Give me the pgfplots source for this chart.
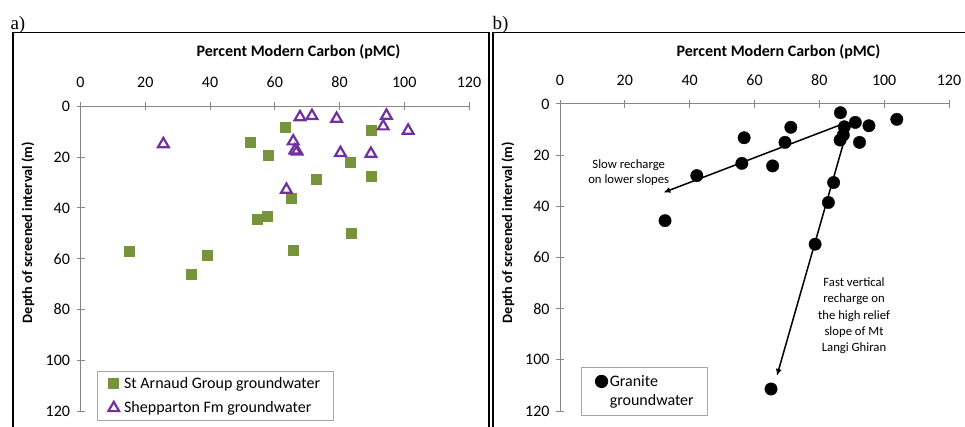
\documentclass[border=0pt]{standalone}
\usepackage{fontspec}
\setmainfont{Carlito}
\newfontfamily\panelfont{Liberation Serif}
\usepackage{pgfplots}
\pgfplotsset{compat=1.18}
\usetikzlibrary{arrows.meta}

\definecolor{axgray}{HTML}{868686}
\definecolor{sagreen}{HTML}{77933C}
\definecolor{shpurple}{HTML}{7030A0}

\pgfplotsset{
  depthax/.style={
    scale only axis,
    y dir=reverse,
    xmin=0, xmax=120, ymin=0, ymax=120,
    xtick={0,20,...,120}, ytick={0,20,...,120},
    axis x line=top, axis y line=left,
    axis line style={-, axgray, line width=1pt},
    tick style={axgray, line width=1pt},
    tick align=center,
    major tick length=8pt,
    /pgf/number format/assume math mode=true,
    tick label style={font=\fontsize{16}{19}\selectfont},
    yticklabel style={xshift=-3pt},
    xticklabel style={yshift=11pt},
    clip=false,
    legend cell align=left,
    legend style={draw=gray!70, line width=0.8pt,
      font=\fontsize{16}{19}\selectfont, anchor=south west,
      inner xsep=11pt, inner ysep=4pt, column sep=3pt},
  }
}

\begin{document}
\begin{tikzpicture}
\useasboundingbox (0,0) rectangle (965pt,427pt);

% panel frames
\draw[line width=1.2pt] (13pt,-5pt) -- (13pt,394.3pt) -- (489pt,394.3pt) -- (489pt,-5pt);
\draw[line width=1.2pt] (493pt,-5pt) -- (493pt,394.3pt) -- (975pt,394.3pt);
\node[anchor=base west, font=\panelfont\fontsize{19}{22}\selectfont] at (7pt,397.5pt) {a)};
\node[anchor=base west, font=\panelfont\fontsize{19}{22}\selectfont] at (489pt,397.5pt) {b)};

% ---- a) ----
\begin{axis}[depthax,
  at={(80.5pt,16pt)}, anchor=south west,
  width=388.5pt, height=304.5pt,
  legend style={at={(axis description cs:0.0425,-0.032)}, row sep=8pt},
]
\addplot[only marks, mark=square*, mark size=5pt, color=sagreen] table {
x y
63.1 8.2
52.3 14.1
58.1 19.1
89.9 9.5
83.2 22.0
72.9 28.6
89.9 27.5
65.2 36.0
57.8 43.1
54.7 44.5
83.5 50.0
65.8 56.5
15.1 57.0
39.0 58.6
34.1 66.1
};
\addlegendentry{St Arnaud Group groundwater}
\addplot[only marks, mark=triangle, mark size=6.2pt, color=shpurple,
  mark options={line width=2.2pt}] table {
x y
67.8 4.2
71.5 3.7
79.1 4.8
94.5 3.6
93.5 7.8
101.2 9.5
25.6 14.8
65.7 13.7
66.2 17.3
66.9 17.7
80.3 18.3
89.7 18.6
63.6 32.8
};
\addlegendentry{Shepparton Fm groundwater}
\end{axis}

% ---- b) ----
\begin{axis}[depthax,
  at={(560pt,16pt)}, anchor=south west,
  width=389pt, height=307pt,
  legend style={at={(axis description cs:0.053,-0.0153)}, row sep=3pt,
    inner xsep=12pt, inner ysep=6pt, column sep=0pt},
]
\addplot[only marks, mark=*, mark size=6.2pt, color=black] table {
x y
86.5 3.4
91.1 7.2
95.3 8.5
103.9 6.0
87.7 8.9
87.4 12.1
86.4 14.1
92.4 15.0
71.2 9.1
56.8 13.2
69.4 15.0
56.1 23.2
65.6 24.2
42.2 28.0
84.4 30.7
82.8 38.5
32.4 45.6
78.7 54.8
65.1 111.4
};
\addlegendentry{Granite}
\addlegendimage{empty legend}
\addlegendentry{groundwater}
\addplot[black, line width=1.5pt, -{Latex[length=7pt,width=6pt]}, forget plot]
  coordinates {(86.2,8.3) (31.9,34.6)};
\addplot[black, line width=1.5pt, -{Latex[length=7pt,width=6pt]}, forget plot]
  coordinates {(88,12.8) (66.9,106.3)};
\node[align=center, font=\fontsize{12.7}{15}\selectfont] at (axis cs:21.2,26.8)
  {Slow recharge\\on lower slopes};
\node[align=center, font=\fontsize{12.7}{16.4}\selectfont] at (axis cs:90.7,82.8)
  {Fast vertical\\recharge on\\the high relief\\slope of Mt\\Langi Ghiran};
\end{axis}

% axis titles
\node[anchor=base, font=\bfseries\fontsize{16}{19}\selectfont] at (298.5pt,370.7pt)
  {Percent Modern Carbon (pMC)};
\node[anchor=base, font=\bfseries\fontsize{16}{19}\selectfont] at (778.5pt,370.7pt)
  {Percent Modern Carbon (pMC)};
\node[rotate=90, font=\bfseries\fontsize{14.3}{17}\selectfont] at (28pt,194.5pt)
  {Depth of screened interval (m)};
\node[rotate=90, font=\bfseries\fontsize{14.3}{17}\selectfont] at (508pt,194.5pt)
  {Depth of screened interval (m)};
\end{tikzpicture}
\end{document}
